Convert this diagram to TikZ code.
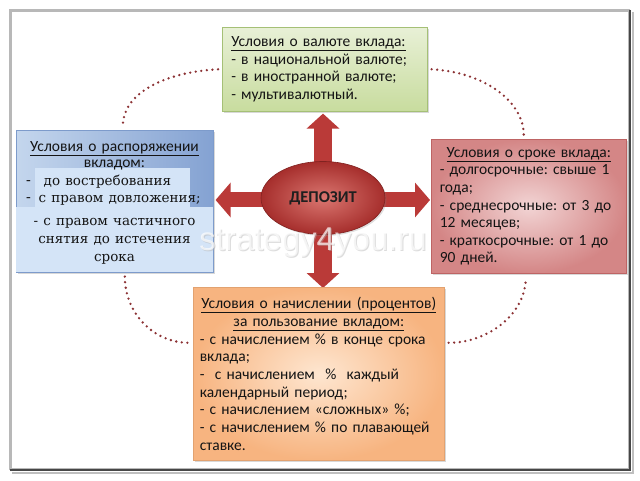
\documentclass[tikz,border=0pt]{standalone}
\usepackage{fontspec}
\setmainfont{Carlito}
\newfontfamily\serifb{DejaVu Serif}
\newfontfamily\wmfont{Liberation Sans}
\usetikzlibrary{shapes.geometric,shadows,arrows.meta,calc,backgrounds}
\definecolor{grnA}{RGB}{232,240,214}
\definecolor{grnB}{RGB}{200,220,158}
\definecolor{grnD}{RGB}{165,192,118}
\definecolor{bluA}{RGB}{196,214,237}
\definecolor{bluB}{RGB}{132,162,210}
\definecolor{bluL}{RGB}{212,228,247}
\definecolor{bluD}{RGB}{125,155,203}
\definecolor{pnkA}{RGB}{242,212,212}
\definecolor{pnkB}{RGB}{212,134,134}
\definecolor{pnkD}{RGB}{190,100,100}
\definecolor{orgA}{RGB}{254,230,208}
\definecolor{orgB}{RGB}{247,180,128}
\definecolor{orgD}{RGB}{226,162,112}
\definecolor{arr}{RGB}{186,58,56}
\definecolor{elA}{RGB}{218,118,112}
\definecolor{elB}{RGB}{166,46,44}
\definecolor{elD}{RGB}{128,34,32}
\definecolor{dotc}{RGB}{140,50,52}
\newcommand{\jl}[2]{\makebox[#1][s]{#2}}
\newcommand{\srf}{\serifb\fontsize{13.5}{17.7}\selectfont}
\frenchspacing
\begin{document}
\begin{tikzpicture}[x=1pt,y=-1pt,
  box/.style={anchor=north west, inner sep=0pt, line width=0.6pt,
    drop shadow={shadow xshift=2pt,shadow yshift=-2pt,opacity=0.3}},
  txt/.style={font=\fontsize{15.5}{17.7}\selectfont\frenchspacing, text=black!92},
  dotline/.style={draw=dotc, line width=2.6pt, dash pattern=on 0pt off 5.6pt, line cap=round},
  harr/.style={draw=arr, line width=15pt, -{Triangle[length=15pt,width=34pt]}},
  varr/.style={draw=arr, line width=18pt, -{Triangle[length=15pt,width=32pt]}},
]
\useasboundingbox (0,0) rectangle (640,481);

% top box
\node[box, txt, top color=grnA, bottom color=grnB, draw=grnD,
  minimum width=205pt, minimum height=84pt, text width=187pt, align=left]
  (green) at (222,27)
  {\underline{Условия о валюте вклада:}\\- в национальной валюте;\\- в иностранной валюте;\\- мультивалютный.};

% left box
\node[box, left color=bluA, right color=bluB, draw=bluD,
  minimum width=197pt, minimum height=142pt] (blue) at (16,130) {};
\fill[bluL] (35,168) rectangle (190,207);
\fill[bluL] (16.3,207) rectangle (212.7,271.7);
\node[txt, anchor=north, align=center, text width=197pt, inner sep=0pt]
  (bluetxt) at (114.5,141)
  {\underline{Условия о распоряжении}\\[-1.5pt]
   вкладом:\\[0.5pt]
   \makebox[197pt][l]{\hspace{10pt}-\hspace{13pt}{\srf до востребования}}\\[-1pt]
   \makebox[197pt][l]{\hspace{10pt}-\hspace{8pt}{\srf с правом довложения;}}\\[6pt]
   {\srf - с правом частичного}\\
   {\srf снятия до истечения}\\
   {\srf срока}};

% right box
\node[box, txt, inner color=pnkA, outer color=pnkB, draw=pnkD,
  minimum width=195pt, minimum height=134pt, text width=178pt, align=left,
  font=\fontsize{15.5}{17.6}\selectfont]
  (pink) at (431,139)
  {\makebox[178pt]{\underline{Условия о сроке вклада:}}\\
   \jl{178pt}{- долгосрочные: свыше 1}\\
   года;\\
   \jl{178pt}{- среднесрочные: от 3 до}\\
   12 месяцев;\\
   \jl{178pt}{- краткосрочные: от 1 до}\\
   90 дней.};

% bottom box
\node[box, txt, inner color=orgA, outer color=orgB, draw=orgD,
  minimum width=251pt, minimum height=173pt, text width=238pt, align=left]
  (orange) at (193,287)
  {\makebox[238pt]{\underline{Условия о начислении (процентов)}}\\
   \makebox[238pt]{\underline{за пользование вкладом:}}\\
   \jl{238pt}{- с начислением \% в конце срока}\\
   вклада;\\
   \jl{238pt}{- \ с начислением \ \% \ каждый}\\
   календарный период;\\
   - с начислением «сложных» \%;\\
   \jl{238pt}{- с начислением \% по плавающей}\\
   ставке.};

% centre
\node[ellipse, minimum width=124pt, minimum height=73pt, inner color=elA, outer color=elB,
  draw=elD, line width=0.6pt, font=\fontsize{16.5}{16.5}\selectfont\bfseries, text=black!88,
  drop shadow={shadow xshift=1.5pt,shadow yshift=-1.5pt,opacity=0.25}]
  (dep) at (323,198) {ДЕПОЗИТ};

\begin{pgfonlayer}{background}
  \fill[white] (0,0) rectangle (640,481);
  \draw[black!28, line width=2.5pt] (10.5,10.5) rectangle (629,469);
  \draw[black!25, line width=1.5pt] (633,12) -- (633,473) -- (12,473);
  \draw[black!72, line width=2pt] (630,10) -- (630,470) -- (10,470);
  \draw[varr] (dep.center) -- ($(dep.center |- green.south)+(0,2)$);
  \draw[varr] (dep.center) -- ($(dep.center |- orange.north)+(0,1)$);
  \draw[harr] ($(dep.center)+(0,2)$) -- ($(dep.center -| blue.east)+(2,2)$);
  \draw[harr] ($(dep.center)+(0,2)$) -- ($(dep.center -| pink.west)+(-1,2)$);
\end{pgfonlayer}

% dotted links
\draw[dotline] ($(green.west)+(-4,0)$) .. controls +(-55,3) and +(0,-32) .. ($(blue.north)+(8,-4)$);
\draw[dotline] ($(green.east)+(4,0)$) .. controls +(55,3) and +(0,-32) .. ($(pink.north)+(-5,-4)$);
\draw[dotline] ($(blue.south)+(10,4)$) .. controls +(0,36) and +(-36,0) .. ($(orange.west)+(-4,-31)$);
\draw[dotline] ($(orange.east)+(4,-31)$) .. controls +(40,0) and +(0,36) .. ($(pink.south)+(-3,4)$);

% watermark
\node[font=\wmfont\fontsize{33}{33}\selectfont, text=black!30, opacity=0.45] (wmsh) at (314,244) {strategy4you.ru};
\node[font=\wmfont\fontsize{33}{33}\selectfont, text=white, opacity=0.7] (wm) at (313,243) {strategy4you.ru};
\end{tikzpicture}
\end{document}
